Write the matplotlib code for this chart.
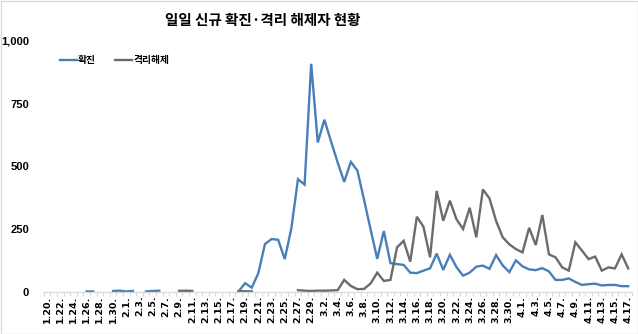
import numpy as np
import matplotlib
matplotlib.use("Agg")
import matplotlib.pyplot as plt
from matplotlib.patches import Rectangle

plt.rcParams['font.family'] = ['Noto Sans CJK KR', 'DejaVu Sans']

nan = np.nan

dates = [
    "1.20.", "1.21.", "1.22.", "1.23.", "1.24.", "1.25.", "1.26.", "1.27.", "1.28.", "1.29.", "1.30.", "1.31.",
    "2.1.", "2.2.", "2.3.", "2.4.", "2.5.", "2.6.", "2.7.", "2.8.", "2.9.", "2.10.", "2.11.", "2.12.", "2.13.",
    "2.14.", "2.15.", "2.16.", "2.17.", "2.18.", "2.19.", "2.20.", "2.21.", "2.22.", "2.23.", "2.24.", "2.25.",
    "2.26.", "2.27.", "2.28.", "2.29.",
    "3.1.", "3.2.", "3.3.", "3.4.", "3.5.", "3.6.", "3.7.", "3.8.", "3.9.", "3.10.", "3.11.", "3.12.", "3.13.",
    "3.14.", "3.15.", "3.16.", "3.17.", "3.18.", "3.19.", "3.20.", "3.21.", "3.22.", "3.23.", "3.24.", "3.25.",
    "3.26.", "3.27.", "3.28.", "3.29.", "3.30.", "3.31.",
    "4.1.", "4.2.", "4.3.", "4.4.", "4.5.", "4.6.", "4.7.", "4.8.", "4.9.", "4.10.", "4.11.", "4.12.", "4.13.",
    "4.14.", "4.15.", "4.16.", "4.17.",
]

confirmed = [
    1, nan, nan, nan, 1, nan, 1, 1, nan, nan, 3, 4,
    1, 3, nan, 1, 3, 4, nan, nan, 3, 1, nan, nan, nan,
    nan, nan, nan, nan, 1, 34, 16, 74, 190, 210, 207, 130,
    253, 449, 427, 909,
    595, 686, 600, 516, 438, 518, 483, 367, 248, 131, 242, 114, 110,
    107, 76, 74, 84, 93, 152, 87, 147, 98, 64, 76, 100,
    104, 91, 146, 105, 78, 125,
    101, 89, 86, 94, 81, 47, 47, 53, 39, 27, 30, 32, 25,
    27, 27, 22, 22,
]

released = [
    nan, nan, nan, nan, nan, nan, nan, nan, nan, nan, nan, nan,
    nan, nan, nan, nan, nan, nan, nan, nan, 3, 4, 3, nan, nan,
    nan, nan, nan, nan, 2, 2, 1, nan, nan, nan, nan, nan,
    nan, 6, 4, 3,
    4, 4, 5, 6, 47, 23, 10, 11, 33, 76, 43, 47, 177,
    203, 120, 299, 259, 137, 402, 283, 363, 289, 250, 335, 217,
    408, 372, 282, 217, 189, 170,
    157, 255, 186, 306, 149, 137, 97, 84, 197, 164, 130, 140, 84,
    97, 93, 149, 93,
]

yticks = [0, 250, 500, 750, 1000]
ytick_labels = ["0", "250", "500", "750", "1,000"]

title = "일일 신규 확진·격리 해제자 현황"
series_names = ["확진", "격리해제"]

W, H = 638, 334
fig = plt.figure(figsize=(W / 100, H / 100), dpi=100)
fig.patch.set_facecolor("white")

left, right = 43.7, 631.5
top, bottom = 41.0, 291.7
ax = fig.add_axes([left / W, 1 - bottom / H, (right - left) / W, (bottom - top) / H])

x = np.arange(len(dates))
ax.plot(x, confirmed, color="#4a7ebb", lw=1.7, label=series_names[0], solid_joinstyle="miter")
ax.plot(x, released, color="#6b6b6b", lw=1.7, label=series_names[1], solid_joinstyle="miter")

ax.set_xlim(-0.5, len(dates) - 0.5)
ax.set_ylim(0, 1000)

ax.set_yticks(yticks)
ax.set_yticklabels(ytick_labels, fontsize=8, fontweight="bold", family=["Liberation Sans"])
ax.tick_params(axis="y", length=0, pad=10.5, colors="black")

ax.set_xticks(x[::2])
ax.set_xticklabels(dates[::2], rotation=90, fontsize=6.8, fontweight="bold", family=["DejaVu Sans"])
ax.set_xticks(np.arange(-0.5, len(dates), 1), minor=True)
ax.tick_params(axis="x", which="major", length=0, pad=3)
ax.tick_params(axis="x", which="minor", length=3, color="#d9d9d9", width=0.8)

for s in ["top", "right", "left"]:
    ax.spines[s].set_visible(False)
ax.spines["bottom"].set_color("#d9d9d9")
ax.spines["bottom"].set_linewidth(0.9)

leg = ax.legend(loc="upper left", bbox_to_anchor=(60 / W, 1 - 55 / H), bbox_transform=fig.transFigure,
                ncol=2, frameon=False, handlelength=1.7, handletextpad=0.15,
                columnspacing=2.0, borderpad=0, borderaxespad=0,
                prop={"family": ["Noto Sans CJK KR"], "weight": "bold", "size": 7})

fig.text(262.5 / W, 1 - 20 / H, title, ha="center", va="center", fontsize=10.5, fontweight="bold")

fig.patches.append(Rectangle((0.5 / W, 0.5 / H), 1 - 1 / W, 1 - 1 / H, transform=fig.transFigure,
                             fill=False, edgecolor="#d9d9d9", lw=1))

fig.savefig("out.png", dpi=100, facecolor="white")
